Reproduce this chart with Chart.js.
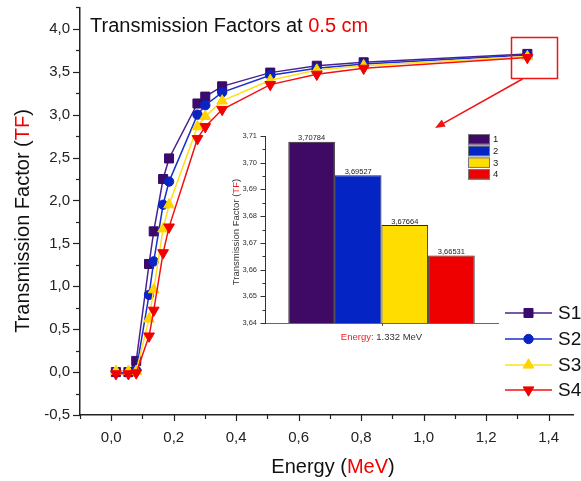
<!DOCTYPE html>
<html>
<head>
<meta charset="utf-8">
<script src="https://cdn.jsdelivr.net/npm/chart.js@4.4.1/dist/chart.umd.min.js"></script>
<style>
  html, body { margin: 0; padding: 0; background: #fff; overflow: hidden; }
  #wrap { position: relative; width: 581px; height: 481px; }
  #main { position: absolute; left: 0; top: 0; }
  #inset { position: absolute; left: 220px; top: 125px; }
</style>
</head>
<body>
<div id="wrap">
  <canvas id="main" width="581" height="481"></canvas>
  <canvas id="inset" width="285" height="225"></canvas>
</div>
<script>
// ---- data ----
const energies = [0.015, 0.055, 0.080, 0.121, 0.136, 0.166, 0.185, 0.276, 0.301, 0.355, 0.509, 0.658, 0.808, 1.332];
const tfS1 = [0.00, 0.00, 0.13, 1.26, 1.64, 2.25, 2.49, 3.13, 3.21, 3.33, 3.49, 3.57, 3.61, 3.70784];
const tfS2 = [0.00, 0.00, 0.02, 0.90, 1.29, 1.95, 2.22, 3.00, 3.11, 3.26, 3.46, 3.54, 3.59, 3.69527];
const tfS3 = [0.01, 0.01, 0.01, 0.62, 0.96, 1.67, 1.95, 2.86, 2.98, 3.16, 3.40, 3.52, 3.57, 3.67664];
const tfS4 = [-0.02, -0.02, -0.01, 0.42, 0.72, 1.39, 1.69, 2.72, 2.86, 3.06, 3.35, 3.47, 3.54, 3.66531];
const seriesNames = ['S1', 'S2', 'S3', 'S4'];

const xMajorTicks = [0.0, 0.2, 0.4, 0.6, 0.8, 1.0, 1.2, 1.4];
const yMajorTicks = [-0.5, 0.0, 0.5, 1.0, 1.5, 2.0, 2.5, 3.0, 3.5, 4.0];

// zoomed view at 1.332 MeV
const insetCategories = ['1.332'];
const insetGroups = ['1', '2', '3', '4'];
const insetValues = [3.70784, 3.69527, 3.67664, 3.66531];
const insetYTicks = [3.64, 3.65, 3.66, 3.67, 3.68, 3.69, 3.70, 3.71];

// ---- styles ----
const FONT = "'Liberation Sans', Arial, Helvetica, sans-serif";
const seriesStyle = [
  { line: '#4a2190', fill: '#3a0b6b', shape: 'rect', r: 6.4, rot: 0 },
  { line: '#1a2fd0', fill: '#0a24c4', shape: 'circle', r: 4.7, rot: 0 },
  { line: '#ffdf1a', fill: '#ffd400', shape: 'triangle', r: 6.2, rot: 0 },
  { line: '#f51010', fill: '#f00000', shape: 'triangle', r: 6.2, rot: 180 }
];
const barColors = ['#3f0a66', '#0524c4', '#ffdd00', '#ee0000'];

const near = (v, list) => list.some(t => Math.abs(t - v) < 1e-6);
const commaFmt = (v, d) => v.toFixed(d).replace('.', ',');

function richText(ctx, parts, x, y, align, font) {
  ctx.save();
  ctx.font = font;
  ctx.textBaseline = 'alphabetic';
  ctx.textAlign = 'left';
  const total = parts.reduce((s, p) => s + ctx.measureText(p.t).width, 0);
  let cx = align === 'center' ? x - total / 2 : x;
  parts.forEach(p => {
    ctx.fillStyle = p.c;
    ctx.fillText(p.t, cx, y);
    cx += ctx.measureText(p.t).width;
  });
  ctx.restore();
}

function drawMarker(ctx, st, x, y) {
  ctx.save();
  ctx.fillStyle = st.fill;
  ctx.strokeStyle = st.fill;
  ctx.lineWidth = 1;
  ctx.beginPath();
  if (st.shape === 'rect') {
    const h = Math.SQRT1_2 * st.r;
    ctx.rect(x - h, y - h, 2 * h, 2 * h);
  } else if (st.shape === 'circle') {
    ctx.arc(x, y, st.r, 0, Math.PI * 2);
  } else {
    let rad = st.rot * Math.PI / 180;
    ctx.moveTo(x + Math.sin(rad) * st.r, y - Math.cos(rad) * st.r);
    rad += 2 * Math.PI / 3;
    ctx.lineTo(x + Math.sin(rad) * st.r, y - Math.cos(rad) * st.r);
    rad += 2 * Math.PI / 3;
    ctx.lineTo(x + Math.sin(rad) * st.r, y - Math.cos(rad) * st.r);
    ctx.closePath();
  }
  ctx.fill();
  ctx.stroke();
  ctx.restore();
}

function drawAxisTicks(ctx, scale, horizontal, majors, majLen, minLen, color, width) {
  ctx.save();
  ctx.strokeStyle = color;
  ctx.lineWidth = width;
  scale.ticks.forEach(t => {
    const p = Math.round(scale.getPixelForValue(t.value)) + 0.5;
    const len = near(t.value, majors) ? majLen : minLen;
    ctx.beginPath();
    if (horizontal) {
      ctx.moveTo(p, scale.top);
      ctx.lineTo(p, scale.top + len);
    } else {
      ctx.moveTo(scale.right, p);
      ctx.lineTo(scale.right - len, p);
    }
    ctx.stroke();
  });
  ctx.restore();
}

// fixed axis boxes: no extra label overhang padding
function fixBox(size, key) {
  return s => {
    s[key] = size;
    s.paddingTop = 0; s.paddingBottom = 0; s.paddingLeft = 0; s.paddingRight = 0;
  };
}

// ---- main chart ----
const seriesValues = [tfS1, tfS2, tfS3, tfS4];

const mainDecor = {
  id: 'mainDecor',
  afterDraw(chart) {
    const ctx = chart.ctx;
    const xs = chart.scales.x, ys = chart.scales.y;
    drawAxisTicks(ctx, xs, true, xMajorTicks, 6, 4, '#222', 1.2);
    drawAxisTicks(ctx, ys, false, yMajorTicks, 7, 4, '#222', 1.2);

    richText(ctx, [{ t: 'Transmission Factors at ', c: '#111' }, { t: '0.5 cm', c: '#f20000' }],
      90, 31.5, 'left', `20px ${FONT}`);
    richText(ctx, [{ t: 'Energy (', c: '#111' }, { t: 'MeV', c: '#f20000' }, { t: ')', c: '#111' }],
      333, 473, 'center', `20px ${FONT}`);
    ctx.save();
    ctx.translate(22, 221);
    ctx.rotate(-Math.PI / 2);
    richText(ctx, [{ t: 'Transmission Factor (', c: '#111' }, { t: 'TF', c: '#f20000' }, { t: ')', c: '#111' }],
      0, 7, 'center', `20px ${FONT}`);
    ctx.restore();

    // legend
    const rows = [313, 339, 365, 390];
    seriesNames.forEach((name, i) => {
      const st = seriesStyle[i];
      ctx.save();
      ctx.strokeStyle = st.line;
      ctx.lineWidth = 1.5;
      ctx.beginPath();
      ctx.moveTo(505, rows[i]);
      ctx.lineTo(552, rows[i]);
      ctx.stroke();
      ctx.restore();
      drawMarker(ctx, st, 528.5, rows[i]);
      ctx.save();
      ctx.font = `19px ${FONT}`;
      ctx.fillStyle = '#111';
      ctx.textBaseline = 'middle';
      ctx.fillText(name, 558, rows[i] + 1);
      ctx.restore();
    });

    // highlight box and arrow toward the inset
    ctx.save();
    ctx.strokeStyle = '#f01515';
    ctx.fillStyle = '#f01515';
    ctx.lineWidth = 1.5;
    ctx.strokeRect(511.5, 37.5, 46, 41);
    const sx = 522.5, sy = 79, tx = 435, ty = 128;
    const dx = tx - sx, dy = ty - sy, L = Math.hypot(dx, dy);
    const ux = dx / L, uy = dy / L, nx = -uy, ny = ux;
    ctx.beginPath();
    ctx.moveTo(sx, sy);
    ctx.lineTo(tx - ux * 7, ty - uy * 7);
    ctx.stroke();
    ctx.beginPath();
    ctx.moveTo(tx, ty);
    ctx.lineTo(tx - ux * 10 + nx * 4, ty - uy * 10 + ny * 4);
    ctx.lineTo(tx - ux * 10 - nx * 4, ty - uy * 10 - ny * 4);
    ctx.closePath();
    ctx.fill();
    ctx.restore();
  }
};

new Chart(document.getElementById('main'), {
  type: 'line',
  data: {
    datasets: seriesNames.map((name, i) => ({
      label: name,
      data: energies.map((e, k) => ({ x: e, y: seriesValues[i][k] })),
      borderColor: seriesStyle[i].line,
      borderWidth: 1.5,
      backgroundColor: seriesStyle[i].fill,
      pointStyle: seriesStyle[i].shape,
      pointRadius: seriesStyle[i].r,
      pointRotation: seriesStyle[i].rot,
      pointBackgroundColor: seriesStyle[i].fill,
      pointBorderColor: seriesStyle[i].fill,
      pointBorderWidth: 1,
      tension: 0,
      fill: false,
      order: 3 - i
    }))
  },
  options: {
    responsive: false,
    animation: false,
    events: [],
    layout: { padding: { top: 6, right: 0, left: 0, bottom: 0 } },
    plugins: { legend: { display: false }, tooltip: { enabled: false }, title: { display: false } },
    scales: {
      x: {
        type: 'linear',
        min: -0.1,
        max: 1.48,
        afterBuildTicks(s) { s.ticks = s.ticks.filter(t => Math.abs(t.value * 10 - Math.round(t.value * 10)) < 1e-6); },
        afterFit: fixBox(66, 'height'),
        grid: { display: false, drawTicks: false },
        border: { display: true, color: '#222', width: 1.5 },
        ticks: {
          stepSize: 0.1,
          includeBounds: false,
          padding: 14,
          color: '#222',
          font: { family: FONT, size: 15 },
          maxRotation: 0,
          autoSkip: false,
          callback: v => near(v, xMajorTicks) ? commaFmt(v, 1) : ''
        }
      },
      y: {
        type: 'linear',
        min: -0.5,
        max: 4.25,
        afterFit: fixBox(80, 'width'),
        grid: { display: false, drawTicks: false },
        border: { display: true, color: '#222', width: 1.5 },
        ticks: {
          stepSize: 0.25,
          includeBounds: false,
          padding: 10,
          color: '#222',
          font: { family: FONT, size: 15 },
          autoSkip: false,
          callback: v => near(v, yMajorTicks) ? commaFmt(v, 1) : ''
        }
      }
    }
  },
  plugins: [mainDecor]
});

// ---- inset bar chart ----
const insetDecor = {
  id: 'insetDecor',
  afterDraw(chart) {
    const ctx = chart.ctx;
    const xs = chart.scales.x, ys = chart.scales.y;
    drawAxisTicks(ctx, ys, false, insetYTicks, 4.5, 2.5, '#333', 1);
    // center tick of the category axis
    const cx = Math.round(xs.getPixelForValue(0)) + 0.5;
    ctx.save();
    ctx.strokeStyle = '#555';
    ctx.lineWidth = 1;
    ctx.beginPath();
    ctx.moveTo(cx, xs.top);
    ctx.lineTo(cx, xs.top + 3);
    ctx.stroke();
    ctx.restore();

    // value labels above bars
    ctx.save();
    ctx.font = `7.5px ${FONT}`;
    ctx.fillStyle = '#222';
    ctx.textAlign = 'center';
    ctx.textBaseline = 'alphabetic';
    chart.data.datasets.forEach((ds, i) => {
      const bar = chart.getDatasetMeta(i).data[0];
      ctx.fillText(commaFmt(ds.data[0], 5), bar.x, bar.y - 1.5);
    });
    ctx.restore();

    // legend
    chart.data.datasets.forEach((ds, i) => {
      const top = 9 + i * 11.7;
      ctx.save();
      ctx.fillStyle = ds.backgroundColor;
      ctx.fillRect(248, top, 22, 10.5);
      ctx.strokeStyle = '#777';
      ctx.lineWidth = 1;
      ctx.strokeRect(248.5, top + 0.5, 21, 9.5);
      ctx.font = `9.5px ${FONT}`;
      ctx.fillStyle = '#222';
      ctx.textBaseline = 'middle';
      ctx.fillText(ds.label, 273, top + 5.5);
      ctx.restore();
    });

    // axis titles
    richText(ctx, [{ t: 'Energy:', c: '#f02020' }, { t: ' 1.332 MeV', c: '#333' }],
      161.5, 215, 'center', `9.5px ${FONT}`);
    ctx.save();
    ctx.translate(15, 107);
    ctx.rotate(-Math.PI / 2);
    richText(ctx, [{ t: 'Transmission Factor (', c: '#333' }, { t: 'TF', c: '#f02020' }, { t: ')', c: '#333' }],
      0, 3.5, 'center', `9.5px ${FONT}`);
    ctx.restore();
  }
};

new Chart(document.getElementById('inset'), {
  type: 'bar',
  data: {
    labels: insetCategories,
    datasets: insetGroups.map((g, i) => ({
      label: g,
      data: [insetValues[i]],
      base: insetYTicks[0],
      backgroundColor: barColors[i],
      borderColor: '#2a2a2a',
      borderWidth: 1,
      borderSkipped: 'start',
      categoryPercentage: 0.8,
      barPercentage: 1.0,
      clip: 0
    }))
  },
  options: {
    responsive: false,
    animation: false,
    events: [],
    layout: { padding: { top: 11, right: 7, left: 0, bottom: 0 } },
    plugins: { legend: { display: false }, tooltip: { enabled: false } },
    scales: {
      x: {
        grid: { display: false, drawTicks: false },
        ticks: { display: false },
        border: { display: true, color: '#666', width: 1 },
        afterFit: fixBox(27, 'height')
      },
      y: {
        min: insetYTicks[0],
        max: insetYTicks[insetYTicks.length - 1],
        afterFit: fixBox(45, 'width'),
        grid: { display: false, drawTicks: false },
        border: { display: true, color: '#333', width: 1 },
        ticks: {
          stepSize: 0.005,
          padding: 8,
          color: '#333',
          font: { family: FONT, size: 7.5 },
          autoSkip: false,
          callback: v => near(v, insetYTicks) ? commaFmt(v, 2) : ''
        }
      }
    }
  },
  plugins: [insetDecor]
});
</script>
</body>
</html>
